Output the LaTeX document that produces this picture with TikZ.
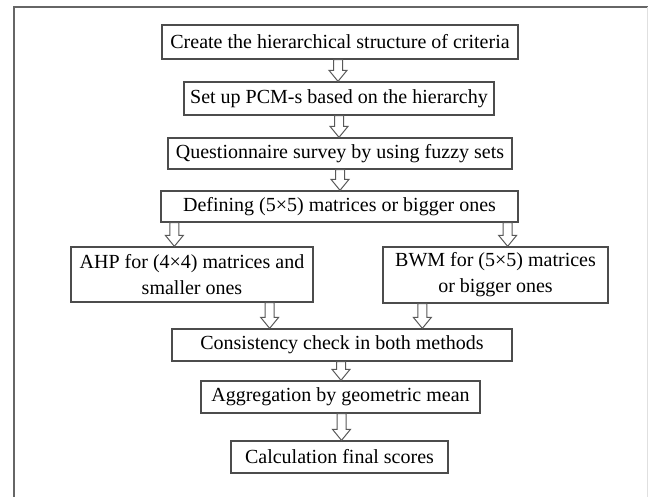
\documentclass[tikz,border=0pt]{standalone}
\usepackage{fontspec}
\setmainfont{Liberation Serif}
\usepackage{tikz}
\usetikzlibrary{calc, positioning}
\definecolor{boxGray}{gray}{0.3}
\definecolor{arrowGray}{gray}{0.35}
\definecolor{frameGray}{gray}{0.4}
\definecolor{edgeGray}{gray}{0.88}

% hollow block arrow from #1 straight down to the level of #2
\newcommand{\flowArrow}[2]{%
  \draw[hollowArrow] let \p1=(#1), \p2=(#2) in
    (\x1-4.5pt,\y1) -- (\x1-4.5pt,\y2+11pt) -- (\x1-9pt,\y2+11pt) -- (\x1,\y2)
    -- (\x1+9pt,\y2+11pt) -- (\x1+4.5pt,\y2+11pt) -- (\x1+4.5pt,\y1) -- cycle;}

\begin{document}
\begin{tikzpicture}[x=1pt, y=-1pt,
    stepBox/.style={draw=boxGray, line width=1.3pt, fill=white, inner sep=0pt,
      align=center, text=black, font=\fontsize{20}{26}\selectfont},
    hollowArrow/.style={draw=arrowGray, line width=1pt, fill=white, line join=miter}]
    \useasboundingbox (0,0) rectangle (648,497);

    % Frame
    \draw[frameGray, line width=1.6pt] (14,497) -- (14,7) -- (648,7);
    \draw[edgeGray, line width=1pt] (647,7) -- (647,497);

    % Main chain
    \node[stepBox, minimum width=356pt, minimum height=34pt] (create) at (340,42) {Create the hierarchical structure of criteria};
    \node[stepBox, minimum width=310pt, minimum height=33pt] (pcm) at (339,98.5) {Set up PCM-s based on the hierarchy};
    \node[stepBox, minimum width=344pt, minimum height=31pt] (survey) at (340,153.5) {Questionnaire survey by using fuzzy sets};
    \node[stepBox, minimum width=357pt, minimum height=31pt] (define) at (339.5,206.5) {Defining (5×5) matrices or bigger ones};

    % Two methods
    \node[stepBox, minimum width=242pt, minimum height=55pt] (ahp) at (192,274.5) {AHP for (4×4) matrices and\\ smaller ones};
    \node[stepBox, minimum width=225pt, minimum height=56pt] (bwm) at (495.5,275) {BWM for (5×5) matrices\\ or bigger ones};

    \node[stepBox, minimum width=340pt, minimum height=32pt] (check) at (342,345) {Consistency check in both methods};
    \node[stepBox, minimum width=279pt, minimum height=32pt] (aggr) at (340.5,397) {Aggregation by geometric mean};
    \node[stepBox, minimum width=217pt, minimum height=32pt] (final) at (339.5,457) {Calculation final scores};

    % Arrow feet
    \coordinate (defL) at ([xshift=14pt]define.south west);
    \coordinate (defR) at ([xshift=-11pt]define.south east);
    \coordinate (ahpB) at ([xshift=-44pt]ahp.south east);
    \coordinate (bwmB) at ([xshift=40pt]bwm.south west);

    \flowArrow{[xshift=-2pt]create.south}{pcm.north}
    \flowArrow{pcm.south}{survey.north}
    \flowArrow{survey.south}{define.north}
    \flowArrow{defL}{ahp.north}
    \flowArrow{defR}{bwm.north}
    \flowArrow{ahpB}{check.north}
    \flowArrow{bwmB}{check.north}
    \flowArrow{[xshift=-1pt]check.south}{aggr.north}
    \flowArrow{[xshift=1pt]aggr.south}{final.north}
\end{tikzpicture}
\end{document}
